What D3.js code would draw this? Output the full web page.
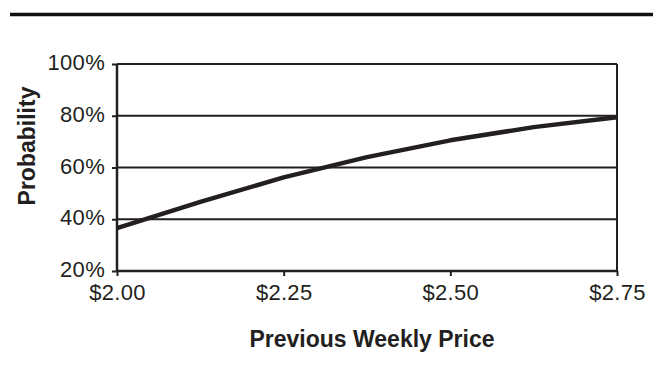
<!DOCTYPE html>
<html>
<head>
<meta charset="utf-8">
<script src="https://cdn.jsdelivr.net/npm/d3@7"></script>
<style>
  html, body { margin: 0; padding: 0; background: #fff; }
  svg { display: block; }
  text { font-family: "Liberation Sans", Arial, Helvetica, sans-serif; fill: #231f20; }
</style>
</head>
<body>
<svg id="chart" width="658" height="373"></svg>
<script>
// Previous weekly price (dollars) and probability (%)
const prices = [2.00, 2.125, 2.25, 2.375, 2.50, 2.625, 2.75];
const probability = [36.6, 46.7, 56.2, 64.0, 70.5, 75.6, 79.4];

const xTicks = [2.00, 2.25, 2.50, 2.75];
const xTickLabels = ["$2.00", "$2.25", "$2.50", "$2.75"];
const yTicks = [20, 40, 60, 80, 100];
const yTickLabels = ["20%", "40%", "60%", "80%", "100%"];

const xTitle = "Previous Weekly Price";
const yTitle = "Probability";

const ink = "#231f20";
const svg = d3.select("#chart");

const margin = { left: 117, right: 41, top: 64, bottom: 102 };
const W = 658, H = 373;
const x = d3.scaleLinear().domain([2.00, 2.75]).range([margin.left, W - margin.right]);
const y = d3.scaleLinear().domain([20, 100]).range([H - margin.bottom, margin.top]);

// Heavy rule across the top
svg.append("line")
  .attr("x1", 10).attr("x2", 653)
  .attr("y1", 14.5).attr("y2", 14.5)
  .attr("stroke", "#111").attr("stroke-width", 3.5);

// Horizontal gridlines
svg.append("g")
  .selectAll("line")
  .data(yTicks.filter(d => d > 20))
  .join("line")
  .attr("x1", x(2.00)).attr("x2", x(2.75))
  .attr("y1", d => y(d)).attr("y2", d => y(d))
  .attr("stroke", ink).attr("stroke-width", 2);

// Right border of the plot
svg.append("line")
  .attr("x1", x(2.75)).attr("x2", x(2.75))
  .attr("y1", y(100)).attr("y2", y(20))
  .attr("stroke", ink).attr("stroke-width", 2);

// Y axis
const yAxis = d3.axisLeft(y)
  .tickValues(yTicks)
  .tickFormat((d, i) => yTickLabels[i])
  .tickSize(5)
  .tickPadding(7);
const gy = svg.append("g")
  .attr("transform", `translate(${margin.left},0)`)
  .call(yAxis);

// X axis
const xAxis = d3.axisBottom(x)
  .tickValues(xTicks)
  .tickFormat((d, i) => xTickLabels[i])
  .tickSize(5)
  .tickPadding(8);
const gx = svg.append("g")
  .attr("transform", `translate(0,${y(20)})`)
  .call(xAxis);

[gx, gy].forEach(g => {
  g.select(".domain").attr("stroke", ink).attr("stroke-width", 2.5);
  g.selectAll(".tick line").attr("stroke", ink).attr("stroke-width", 2);
  g.selectAll(".tick text")
    .attr("font-family", "Liberation Sans, Arial, sans-serif")
    .attr("font-size", 22)
    .attr("letter-spacing", 0.3)
    .attr("fill", ink);
});
gy.selectAll(".tick text").attr("dy", "0.25em");
gx.select(".domain").attr("d", `M${x(2.00)},0H${x(2.75)}`);
gy.select(".domain").attr("d", `M0,${y(20)}V${y(100)}`);

// Probability line
const line = d3.line()
  .x((d, i) => x(prices[i]))
  .y(d => y(d));
svg.append("path")
  .datum(probability)
  .attr("fill", "none")
  .attr("stroke", ink)
  .attr("stroke-width", 4.5)
  .attr("stroke-linejoin", "round")
  .attr("d", line);

// Axis titles
svg.append("text")
  .attr("x", 372)
  .attr("y", 347)
  .attr("text-anchor", "middle")
  .attr("font-weight", "bold")
  .attr("font-size", 23)
  .text(xTitle);

svg.append("text")
  .attr("transform", `translate(34.5,146) rotate(-90)`)
  .attr("text-anchor", "middle")
  .attr("font-weight", "bold")
  .attr("font-size", 23)
  .text(yTitle);
</script>
</body>
</html>
